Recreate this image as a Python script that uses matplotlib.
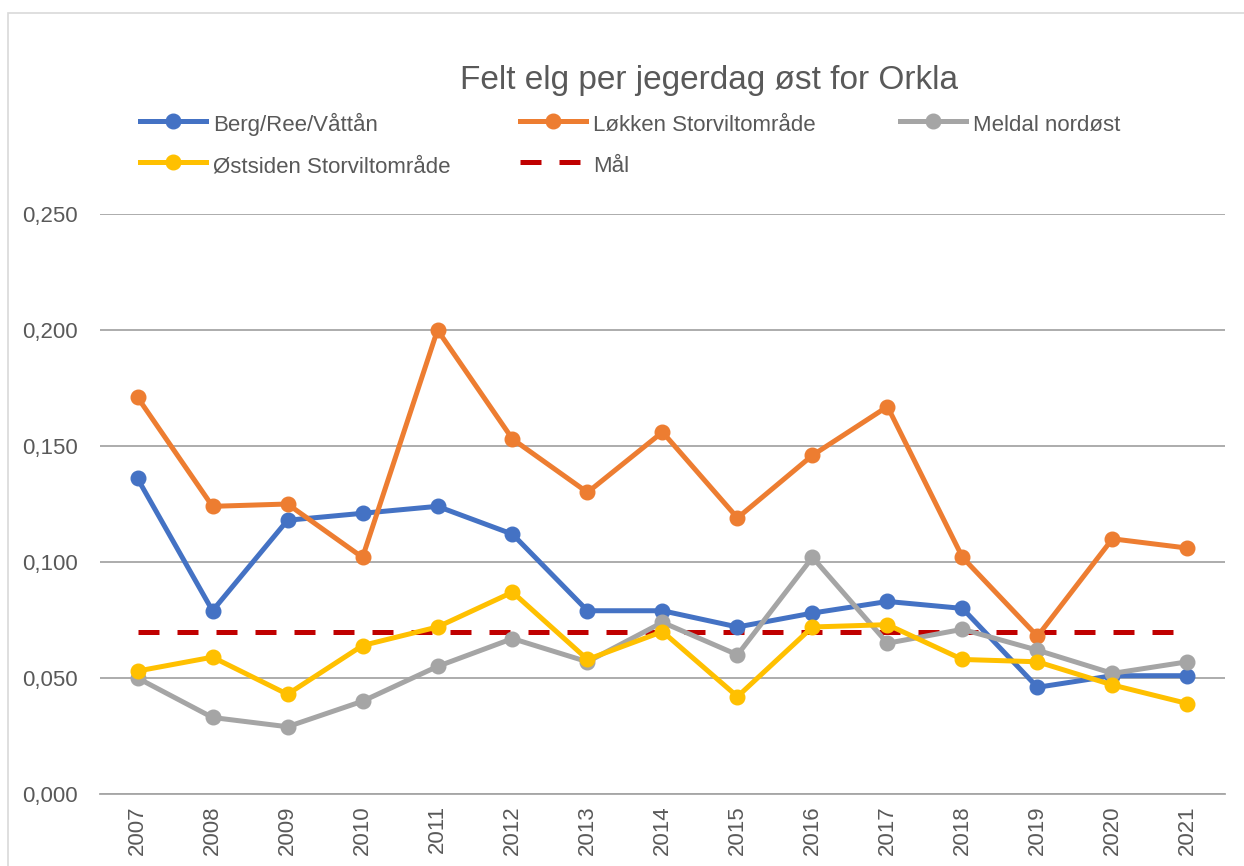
import matplotlib.pyplot as plt
from matplotlib.patches import Rectangle
from matplotlib.ticker import FuncFormatter

years = ['2007', '2008', '2009', '2010', '2011', '2012', '2013', '2014',
         '2015', '2016', '2017', '2018', '2019', '2020', '2021']

berg = [0.136, 0.079, 0.118, 0.121, 0.124, 0.112, 0.079, 0.079,
        0.072, 0.078, 0.083, 0.080, 0.046, 0.051, 0.051]
lokken = [0.171, 0.124, 0.125, 0.102, 0.200, 0.153, 0.130, 0.156,
          0.119, 0.146, 0.167, 0.102, 0.068, 0.110, 0.106]
meldal = [0.050, 0.033, 0.029, 0.040, 0.055, 0.067, 0.057, 0.074,
          0.060, 0.102, 0.065, 0.071, 0.062, 0.052, 0.057]
ostsiden = [0.053, 0.059, 0.043, 0.064, 0.072, 0.087, 0.058, 0.070,
            0.042, 0.072, 0.073, 0.058, 0.057, 0.047, 0.039]
maal = [0.070] * len(years)

plt.rcParams['font.family'] = ['Liberation Sans', 'DejaVu Sans']

fig = plt.figure(figsize=(12.44, 8.66), dpi=100)
ax = fig.add_axes([0.0804, 0.0831, 0.9043, 0.6698])

# chart border
fig.patches.append(Rectangle((8 / 1244, -0.1), 1.2, 1 - 13 / 866 + 0.1,
                             transform=fig.transFigure, fill=False,
                             edgecolor='#d9d9d9', linewidth=1.2, zorder=0))

x = list(range(len(years)))
maal_line = ax.plot(x, maal, color='#C00000', linewidth=3.6, dashes=(4.2, 3.6),
                    label='Mål', zorder=2)[0]
series = [
    (berg, '#4472C4', 'Berg/Ree/Våttån'),
    (lokken, '#ED7D31', 'Løkken Storviltområde'),
    (meldal, '#A5A5A5', 'Meldal nordøst'),
    (ostsiden, '#FFC000', 'Østsiden Storviltområde'),
]
lines = {}
for vals, col, name in series:
    lines[name] = ax.plot(x, vals, color=col, linewidth=3.6, marker='o',
                          markersize=10.5, label=name, zorder=3)[0]

ax.set_xlim(-0.5, len(years) - 0.5)
ax.set_ylim(0, 0.25)
ax.set_yticks([0, 0.05, 0.10, 0.15, 0.20, 0.25])
ax.yaxis.set_major_formatter(FuncFormatter(lambda v, p: f'{v:.3f}'.replace('.', ',')))
ax.set_xticks(x)
ax.set_xticklabels(years, rotation=90)
ax.tick_params(axis='both', length=0, labelsize=16, labelcolor='#595959')
ax.tick_params(axis='y', pad=16)
ax.tick_params(axis='x', pad=8)
ax.grid(axis='y', color='#a6a6a6', linewidth=1.3)
ax.set_axisbelow(True)
for s in ['top', 'right', 'left']:
    ax.spines[s].set_visible(False)
ax.spines['bottom'].set_color('#a6a6a6')
ax.spines['bottom'].set_linewidth(1.3)

fig.text(709 / 1244, 1 - 80 / 866, 'Felt elg per jegerdag øst for Orkla',
         ha='center', va='center', fontsize=24, color='#595959')

# one legend per column so columns sit where they do in the original
columns = [
    (120, [lines['Berg/Ree/Våttån'], lines['Østsiden Storviltområde']]),
    (500, [lines['Løkken Storviltområde'], maal_line]),
    (880, [lines['Meldal nordøst']]),
]
for xpos, hs in columns:
    fig.legend(hs, [h.get_label() for h in hs], loc='upper left',
               bbox_to_anchor=(xpos / 1244, 1 - 91 / 866), frameon=False,
               fontsize=16, labelcolor='#595959', handlelength=2.95,
               handleheight=1.3, handletextpad=0.35, labelspacing=0.77)

fig.savefig('out.png', dpi=100)
